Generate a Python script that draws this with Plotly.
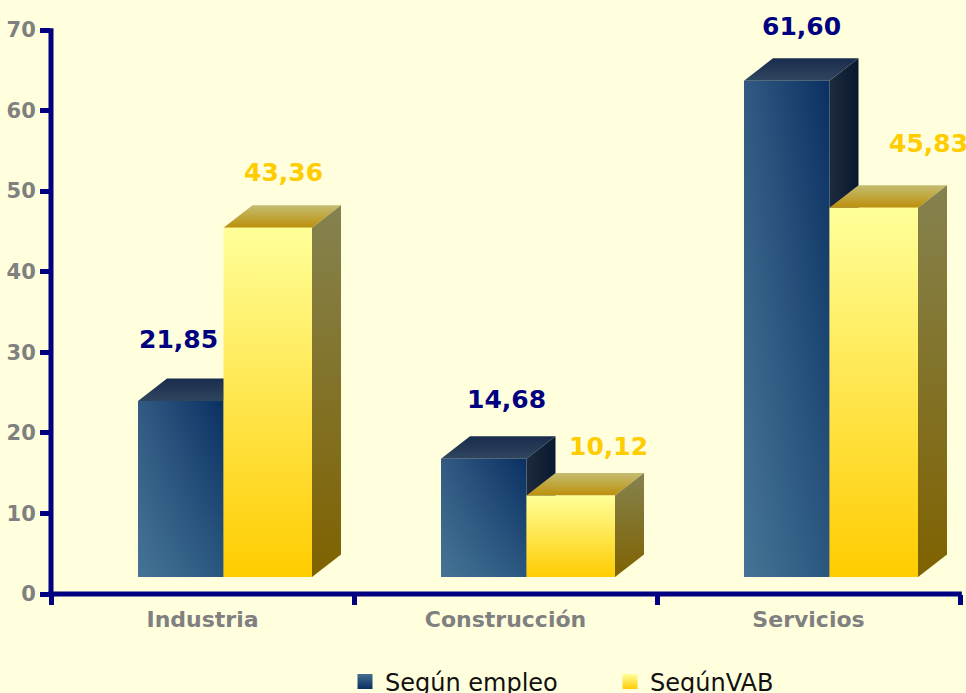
import plotly.graph_objects as go

categories = ["Industria", "Construcción", "Servicios"]
empleo = [21.85, 14.68, 61.60]
vab = [43.36, 10.12, 45.83]
labels_empleo = ["21,85", "14,68", "61,60"]
labels_vab = ["43,36", "10,12", "45,83"]
y_ticks = [0, 10, 20, 30, 40, 50, 60, 70]

BG = "#FFFFDD"
NAVY = "#000080"
GREY = "#808080"
GOLD = "#FFCC00"
FONT = "DejaVu Sans"
LEFT, RIGHT_PX = 51, 960
PX_X = (RIGHT_PX - LEFT) / 3
PX_Y = 564 / 70
DX, DY, BASE = 29 / PX_X, 22.5 / PX_Y, 17 / PX_Y
X_EMP = [(138 - LEFT) / PX_X, (441 - LEFT) / PX_X - 1, (744 - LEFT) / PX_X - 2]
W_EMP = 85.5 / PX_X
W_VAB = 88.5 / PX_X
EMP_SHIFT = [(-2, 61), (23, 59), (15, 54)]
VAB_SHIFT = [(16, 55), (38, 49), (55, 64)]


def poly(fig, xs, ys, kind, colors):
    fg = dict(type=kind, colorscale=[[0, colors[0]], [1, colors[1]]])
    fig.add_trace(go.Scatter(
        x=xs + xs[:1], y=ys + ys[:1], mode="lines", line=dict(width=0),
        fill="toself", fillgradient=fg, hoverinfo="skip", showlegend=False))


def box(fig, x0, w, value, series):
    x1 = x0 + w
    y0, y1 = BASE, BASE + value
    top_xs = [x0, x1, x1 + DX, x0 + DX]
    top_ys = [y1, y1, y1 + DY, y1 + DY]
    side_xs = [x1, x1 + DX, x1 + DX, x1]
    side_ys = [y0, y0 + DY, y1 + DY, y1]
    fx, fy = [x0, x1, x1, x0], [y0, y0, y1, y1]
    if series == "emp":
        poly(fig, top_xs, top_ys, "vertical", ("#30465F", "#1A2C4E"))
        poly(fig, side_xs, side_ys, "horizontal", ("#1E2B3E", "#08182F"))
        poly(fig, fx, fy, "horizontal", ("#325A82", "#0A3062"))
        poly(fig, fx, fy, "vertical", ("rgba(110,170,190,0.32)", "rgba(110,170,190,0)"))
    else:
        poly(fig, top_xs, top_ys, "vertical", ("#BC900A", "#C4BD72"))
        poly(fig, side_xs, side_ys, "vertical", ("#7F6200", "#85824F"))
        poly(fig, fx, fy, "vertical", (GOLD, "#FFFF99"))


fig = go.Figure()
for i, cat in enumerate(categories):
    box(fig, X_EMP[i] + i, W_EMP, empleo[i], "emp")
    box(fig, X_EMP[i] + i + W_EMP, W_VAB, vab[i], "vab")
    for val, txt, col, (sx, sy), cx in (
        (empleo[i], labels_empleo[i], NAVY, EMP_SHIFT[i], X_EMP[i] + i + W_EMP / 2),
        (vab[i], labels_vab[i], GOLD, VAB_SHIFT[i], X_EMP[i] + i + W_EMP + W_VAB / 2),
    ):
        fig.add_annotation(x=cx, y=val + BASE, text=txt, showarrow=False, xshift=sx, yshift=sy,
                           font=dict(family=FONT, size=25, color=col, weight="bold"),
                           xanchor="center", yanchor="middle")

# axis lines centred on the zero positions, as in the reference (paper refs are not clipped)
for x0, y0, x1, y1 in ((-0.003, 0, 1.002, 0), (0, -0.004, 0, 1.003)):
    fig.add_shape(type="line", xref="paper", yref="paper", x0=x0, y0=y0, x1=x1, y1=y1,
                  line=dict(color=NAVY, width=5), layer="above")

for name, c0, c1 in (("Según empleo", "#456D8F", "#0A3062"), ("SegúnVAB", "#FFFF99", GOLD)):
    fig.add_trace(go.Scatter(
        x=[None], y=[None], mode="markers", name=name,
        marker=dict(symbol="square", size=15, color=c0,
                    gradient=dict(type="vertical", color=c1), line=dict(width=0))))

fig.update_layout(
    width=966, height=693, autosize=False,
    margin=dict(l=LEFT, r=966 - RIGHT_PX, t=30, b=99),
    paper_bgcolor=BG, plot_bgcolor=BG,
    font=dict(family=FONT),
    legend=dict(orientation="h", xref="container", yref="container",
                x=345 / 966, xanchor="left", y=1 - 682 / 693, yanchor="middle",
                entrywidth=220, entrywidthmode="pixels",
                font=dict(family=FONT, size=24, color="#111111"), itemwidth=30),
    xaxis=dict(range=[0, 3], showgrid=False, zeroline=False, showline=False,
               tickmode="array", tickvals=[0.5, 1.5, 2.5], ticktext=categories,
               ticks="", ticklabelstandoff=10,
               tickfont=dict(family=FONT, size=22, color=GREY, weight="bold"),
               minor=dict(tickmode="array", tickvals=[0, 1, 2, 3], ticks="outside",
                          ticklen=10, tickwidth=5, tickcolor=NAVY, showgrid=False)),
    yaxis=dict(range=[0, 70], showgrid=False, zeroline=False, showline=False,
               tickmode="array", tickvals=y_ticks, ticks="outside",
               ticklen=10, tickwidth=5, tickcolor=NAVY,
               tickfont=dict(family=FONT, size=21, color=GREY, weight="bold")),
)

fig.write_html(
    "out.html", config=dict(displayModeBar=False),
    post_script="document.body.style.margin='0';document.body.style.background='%s';"
                "document.documentElement.style.overflow='hidden';" % BG,
)
